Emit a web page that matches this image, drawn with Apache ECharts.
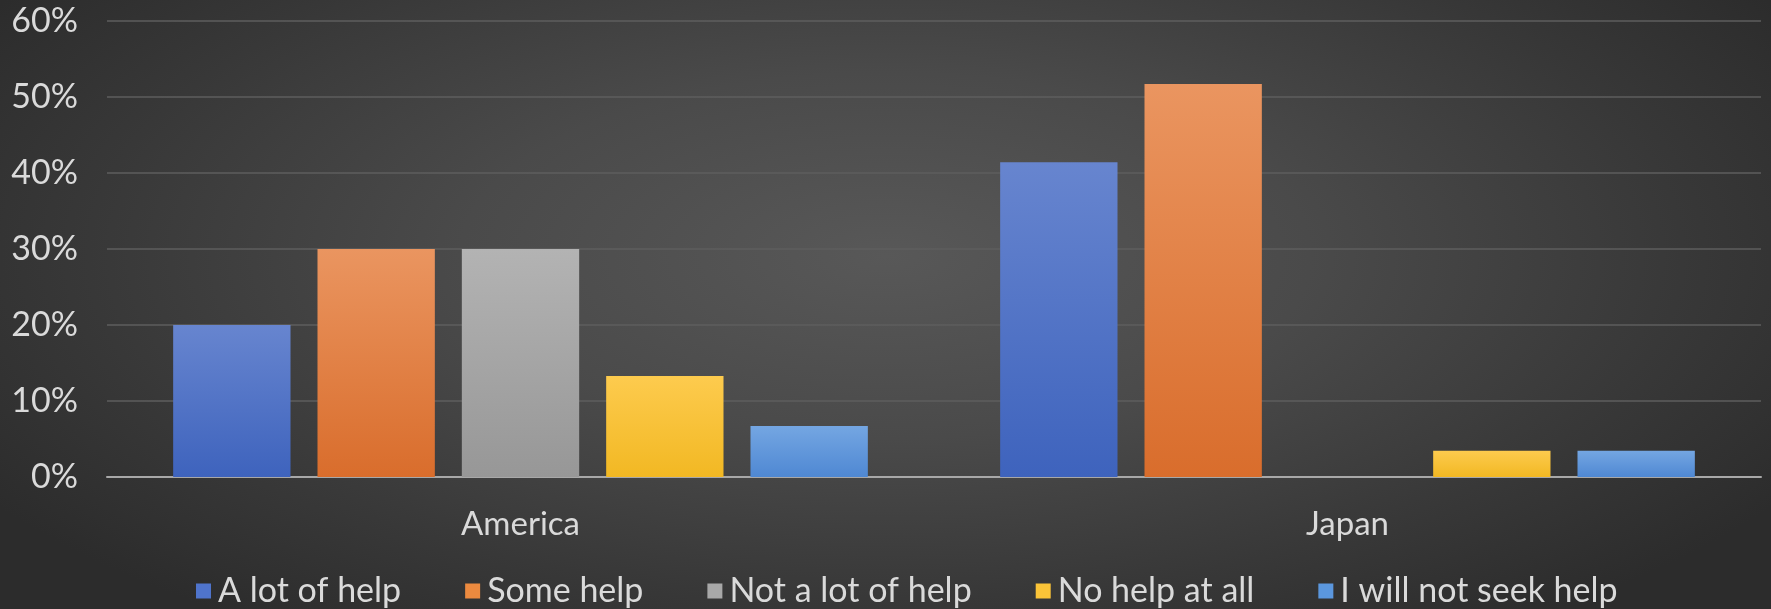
<!DOCTYPE html>
<html>
<head>
<meta charset="utf-8">
<script src="https://cdn.jsdelivr.net/npm/echarts@6/dist/echarts.min.js"></script>
<style>
  html, body { margin: 0; padding: 0; }
  #chart {
    width: 1771px; height: 609px;
    background: radial-gradient(ellipse 60% 75% at 50% 42%, #585858 0%, #4a4a4a 40%, #383838 75%, #2c2c2c 100%);
  }
</style>
</head>
<body>
<div id="chart"></div>
<script>
// Survey answers by country (share of respondents, %)
const categories = ['America', 'Japan'];
const seriesNames = ['A lot of help', 'Some help', 'Not a lot of help', 'No help at all', 'I will not seek help'];
const aLotOfHelp = [20.0, 41.4];
const someHelp = [30.0, 51.7];
const notALotOfHelp = [30.0, 0];
const noHelpAtAll = [13.3, 3.45];
const willNotSeekHelp = [6.7, 3.45];
const yTicks = [0, 10, 20, 30, 40, 50, 60];

const seriesValues = [aLotOfHelp, someHelp, notALotOfHelp, noHelpAtAll, willNotSeekHelp];
const palette = [
  ['#6785cf', '#3e63bd'],
  ['#ea9560', '#d96d2c'],
  ['#b3b3b3', '#979797'],
  ['#fdcb4e', '#f2b823'],
  ['#74a6e2', '#4f88d3']
];
const legendColors = ['#4f74cc', '#ec8a3f', '#a8a8a8', '#fbc438', '#5b97de'];

const chart = echarts.init(document.getElementById('chart'), null, { renderer: 'canvas' });
const font = 'Lato, "Liberation Sans", sans-serif';

chart.setOption({
  backgroundColor: 'transparent',
  animation: false,
  grid: { left: 107, right: 10, top: 21, bottom: 132, containLabel: false },
  legend: {
    data: seriesNames.map((n, i) => ({ name: n, itemStyle: { color: legendColors[i] } })),
    left: 191,
    top: 569,
    icon: 'rect',
    itemWidth: 15,
    itemHeight: 15,
    itemGap: 64,
    textStyle: { color: '#dadada', fontSize: 34, fontFamily: font, padding: [0, 0, 0, 2] }
  },
  xAxis: {
    type: 'category',
    data: categories,
    axisTick: { show: false },
    axisLine: { lineStyle: { color: '#a8a8a8', width: 2 } },
    axisLabel: { color: '#dadada', fontSize: 33, fontFamily: font, margin: 31 }
  },
  yAxis: {
    type: 'value',
    min: yTicks[0],
    max: yTicks[yTicks.length - 1],
    interval: 10,
    axisLine: { show: false },
    axisTick: { show: false },
    axisLabel: { color: '#dadada', fontSize: 34, fontFamily: font, margin: 29, formatter: '{value}%' },
    splitLine: { lineStyle: { color: '#5e5e5e', width: 1.5 } }
  },
  series: seriesNames.map((name, i) => ({
    name,
    type: 'bar',
    data: seriesValues[i],
    barCategoryGap: '16%',
    barGap: '23%',
    itemStyle: {
      color: new echarts.graphic.LinearGradient(0, 0, 0, 1, [
        { offset: 0, color: palette[i][0] },
        { offset: 1, color: palette[i][1] }
      ]),
      borderWidth: 0
    }
  }))
});
</script>
</body>
</html>
